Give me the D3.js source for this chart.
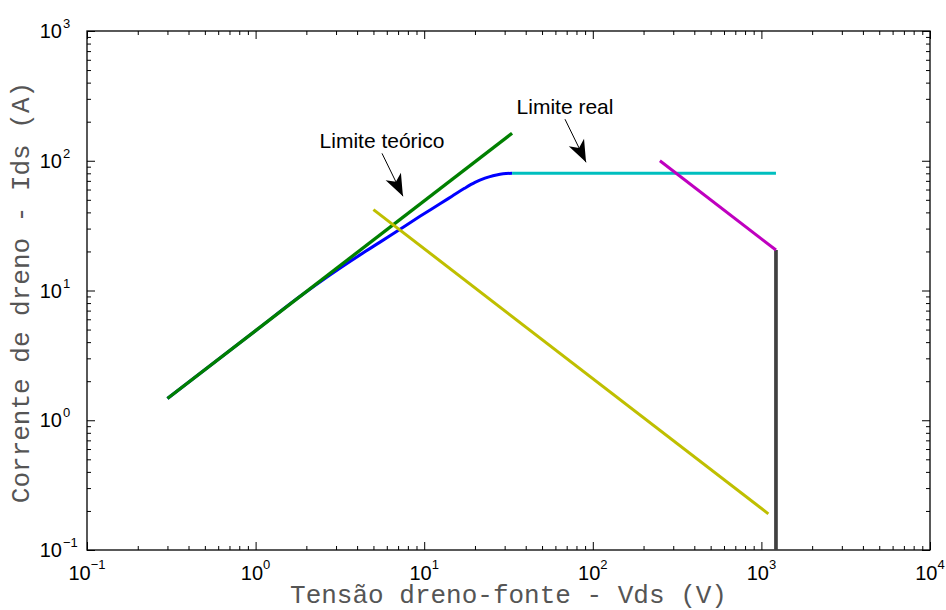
<!DOCTYPE html>
<html>
<head>
<meta charset="utf-8">
<script src="https://cdn.jsdelivr.net/npm/d3@7/dist/d3.min.js"></script>
<style>
body { margin: 0; background: #fff; }
.tick-label { font-family: "Liberation Sans", Arial, sans-serif; fill: #000; }
.axis-title { font-family: "Liberation Mono", "Courier New", monospace; fill: #555; font-size: 26px; }
.note { font-family: "Liberation Sans", Arial, sans-serif; font-size: 21px; fill: #000; }
</style>
</head>
<body>
<svg id="chart" width="946" height="610"></svg>
<script>
// axis ranges (log10 decades)
var xDecades = [-1, 0, 1, 2, 3, 4];
var yDecades = [-1, 0, 1, 2, 3];
var minorSteps = [2, 3, 4, 5, 6, 7, 8, 9];

// curves: Vds (V) / Ids (A)
var blueV = [0.3, 1, 1.83, 2.76, 4.16, 5.47, 7.19, 9.44, 12.41, 14.62, 17.34, 20.01, 22.94, 25.59, 28.15, 30.56, 33.2];
var blueI = [1.47, 4.9, 8.99, 13.18, 18.82, 23.6, 29.7, 37.3, 46.6, 53.3, 61.3, 68.1, 73.4, 76.7, 78.7, 79.7, 80];
var greenV = [0.3, 33.2];
var greenI = [1.47, 163];
var cyanV = [33.2, 1220];
var cyanI = [80, 80];
var grayV = [1220, 1220];
var grayI = [20.5, 0.1];
var magentaV = [250, 1220];
var magentaI = [100, 20.5];
var yellowV = [5, 1100];
var yellowI = [42, 0.19];

// annotations: text, tail (V, I), tip (V, I)
var noteText = ["Limite teórico", "Limite real"];
var noteTail = [[5.62, 114], [68.4, 209]];
var noteTip = [[7.48, 53.3], [91.2, 97.3]];

var W = 946, H = 610;
var margin = { top: 31, right: 16, bottom: 60, left: 87 };
var w = W - margin.left - margin.right, h = H - margin.top - margin.bottom;

var svg = d3.select("#chart");
var g = svg.append("g").attr("transform", "translate(" + margin.left + "," + margin.top + ")");

var x = d3.scaleLog().domain([0.1, 10000]).range([0, w]);
var y = d3.scaleLog().domain([0.1, 1000]).range([h, 0]);

function majors(dec) { return dec.map(function(d) { return Math.pow(10, d); }); }
function minors(dec) {
	var out = [];
	dec.slice(0, -1).forEach(function(d) {
		minorSteps.forEach(function(m) { out.push(m * Math.pow(10, d)); });
	});
	return out;
}

// ticks, drawn inward on all four sides
function tickAxis(axisFn, scale, values, size, tx, ty) {
	var a = g.append("g").attr("transform", "translate(" + tx + "," + ty + ")")
		.call(axisFn(scale).tickValues(values).tickSize(size).tickSizeOuter(0).tickFormat(""));
	a.select(".domain").remove();
	a.selectAll("line").attr("stroke", "#000").attr("stroke-width", 1);
	return a;
}
tickAxis(d3.axisBottom, x, majors(xDecades), -8, 0, h);
tickAxis(d3.axisBottom, x, minors(xDecades), -4, 0, h);
tickAxis(d3.axisTop, x, majors(xDecades), -8, 0, 0);
tickAxis(d3.axisTop, x, minors(xDecades), -4, 0, 0);
tickAxis(d3.axisLeft, y, majors(yDecades), -8, 0, 0);
tickAxis(d3.axisLeft, y, minors(yDecades), -4, 0, 0);
tickAxis(d3.axisRight, y, majors(yDecades), -8, w, 0);
tickAxis(d3.axisRight, y, minors(yDecades), -4, w, 0);

g.append("rect").attr("width", w).attr("height", h)
	.attr("fill", "none").attr("stroke", "#000").attr("stroke-width", 1.3);

function expText(d) { return d < 0 ? "\u2212" + (-d) : String(d); }

// x tick labels
xDecades.forEach(function(d) {
	var t = g.append("text").attr("class", "tick-label")
		.attr("x", x(Math.pow(10, d))).attr("y", h + 30)
		.attr("text-anchor", "middle");
	t.append("tspan").attr("font-size", 20).text("10");
	t.append("tspan").attr("font-size", 13).attr("dy", -11).text(expText(d));
});

// y tick labels
yDecades.forEach(function(d) {
	var yy = y(Math.pow(10, d));
	g.append("text").attr("class", "tick-label").attr("font-size", 20)
		.attr("x", -25).attr("y", yy + 7).attr("text-anchor", "end").text("10");
	g.append("text").attr("class", "tick-label").attr("font-size", 13)
		.attr("x", -24).attr("y", yy - 3).text(expText(d));
});

// axis titles
svg.append("text").attr("class", "axis-title")
	.attr("x", margin.left + w / 2).attr("y", 603).attr("text-anchor", "middle")
	.text("Tensão dreno-fonte - Vds (V)");
svg.append("text").attr("class", "axis-title")
	.attr("transform", "translate(29," + (margin.top + h / 2 + 2) + ") rotate(-90)")
	.attr("text-anchor", "middle")
	.text("Corrente de dreno - Ids (A)");

// curves
var plot = g.append("g");
function series(vs, is) { return vs.map(function(v, i) { return [v, is[i]]; }); }
function drawLine(vs, is, color, width, curve) {
	var line = d3.line().x(function(d) { return x(d[0]); }).y(function(d) { return y(d[1]); });
	if (curve) line.curve(curve);
	plot.append("path").datum(series(vs, is)).attr("d", line)
		.attr("fill", "none").attr("stroke", color).attr("stroke-width", width);
}
drawLine(blueV, blueI, "#0000ff", 3, d3.curveMonotoneX);
drawLine(cyanV, cyanI, "#00bfbf", 3);
drawLine(greenV, greenI, "#008000", 3.3);
drawLine(grayV, grayI, "#404040", 3.7);
drawLine(magentaV, magentaI, "#bf00bf", 3);
drawLine(yellowV, yellowI, "#bfbf00", 3);

// annotations with arrows
noteText.forEach(function(txt, i) {
	var x0 = x(noteTail[i][0]), y0 = y(noteTail[i][1]);
	var x1 = x(noteTip[i][0]), y1 = y(noteTip[i][1]);
	var ang = Math.atan2(y1 - y0, x1 - x0) * 180 / Math.PI;
	g.append("line").attr("x1", x0).attr("y1", y0).attr("x2", x1).attr("y2", y1)
		.attr("stroke", "#000").attr("stroke-width", 1);
	g.append("path").attr("d", "M0,0 L-22,-8.5 L-16,0 L-22,8.5 Z")
		.attr("transform", "translate(" + x1 + "," + y1 + ") rotate(" + ang + ")")
		.attr("fill", "#000");
	g.append("text").attr("class", "note").attr("x", x0).attr("y", y0 - 5)
		.attr("text-anchor", "middle").text(txt);
});
</script>
</body>
</html>
